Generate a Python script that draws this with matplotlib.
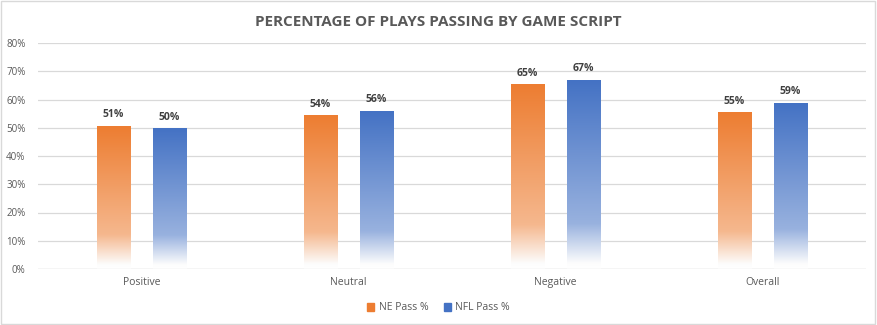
import numpy as np
import matplotlib.pyplot as plt
from matplotlib.colors import LinearSegmentedColormap
from matplotlib.patches import Rectangle

categories = ['Positive', 'Neutral', 'Negative', 'Overall']
ne_pass = [50.6, 54.2, 65.2, 55.3]
nfl_pass = [49.6, 55.9, 66.8, 58.7]
ne_labels = ['51%', '54%', '65%', '55%']
nfl_labels = ['50%', '56%', '67%', '59%']
yticks = [0, 10, 20, 30, 40, 50, 60, 70, 80]

orange = (237/255, 125/255, 49/255)
blue = (68/255, 114/255, 196/255)
grey_txt = '#595959'

plt.rcParams['font.family'] = ['Open Sans', 'DejaVu Sans']

fig = plt.figure(figsize=(8.77, 3.25), dpi=100)
ax = fig.add_axes([38/877, 56/325, 828/877, 226/325])

def grad_cmap(c):
    light = tuple(x + (1 - x) * 0.45 for x in c)
    return LinearSegmentedColormap.from_list(
        'g', [(0.0, (1, 1, 1)), (0.03, (0.99, 0.99, 0.99)), (0.24, light), (1.0, c)])

x = np.arange(len(categories))
w = 0.16
off = 0.135
grad = np.linspace(0, 1, 256).reshape(-1, 1)

for vals, labs, col, sgn in [(ne_pass, ne_labels, orange, -1),
                             (nfl_pass, nfl_labels, blue, 1)]:
    bars = ax.bar(x + sgn * off, vals, width=w, color='none', zorder=3)
    cm = grad_cmap(col)
    for b, lab in zip(bars, labs):
        x0, h = b.get_x(), b.get_height()
        ax.imshow(grad, extent=[x0, x0 + b.get_width(), 0, h], origin='lower',
                  cmap=cm, aspect='auto', zorder=3, interpolation='bilinear')
        ax.text(x0 + b.get_width() / 2, h + 2.2, lab, ha='center', va='bottom',
                fontsize=7.5, fontweight='bold', color='#404040', zorder=4)

ax.set_xlim(-0.5, len(categories) - 0.5)
ax.set_ylim(0, 80)
ax.set_yticks(yticks)
ax.set_yticklabels([f'{t}%' for t in yticks], fontsize=7, color=grey_txt)
ax.set_xticks(x)
ax.set_xticklabels(categories, fontsize=7.5, color=grey_txt)
ax.tick_params(length=0, pad=6)
ax.tick_params(axis='y', pad=9)
ax.grid(axis='y', color='#d9d9d9', linewidth=0.9, zorder=0)
ax.axhline(0, color='#d9d9d9', linewidth=0.9, zorder=4)
for s in ax.spines.values():
    s.set_visible(False)

ax.legend(handles=[Rectangle((0, 0), 1, 1, color=orange),
                   Rectangle((0, 0), 1, 1, color=blue)],
          labels=['NE Pass %', 'NFL Pass %'], loc='center',
          bbox_to_anchor=(0.5, (325 - 308) / 325), bbox_transform=fig.transFigure,
          ncol=2, frameon=False, fontsize=7.5, handlelength=0.7, handleheight=0.7,
          columnspacing=1.5, handletextpad=0.4, labelcolor=grey_txt)

fig.text(0.5, 1 - 22/325, 'PERCENTAGE OF PLAYS PASSING BY GAME SCRIPT', ha='center',
         va='center', fontsize=11, fontweight='bold', color=grey_txt)

fig.patches.append(Rectangle((0.001, 0.002), 0.997, 0.995, transform=fig.transFigure,
                             fill=False, edgecolor='#d9d9d9', linewidth=1))

fig.savefig('out.png', dpi=100)
